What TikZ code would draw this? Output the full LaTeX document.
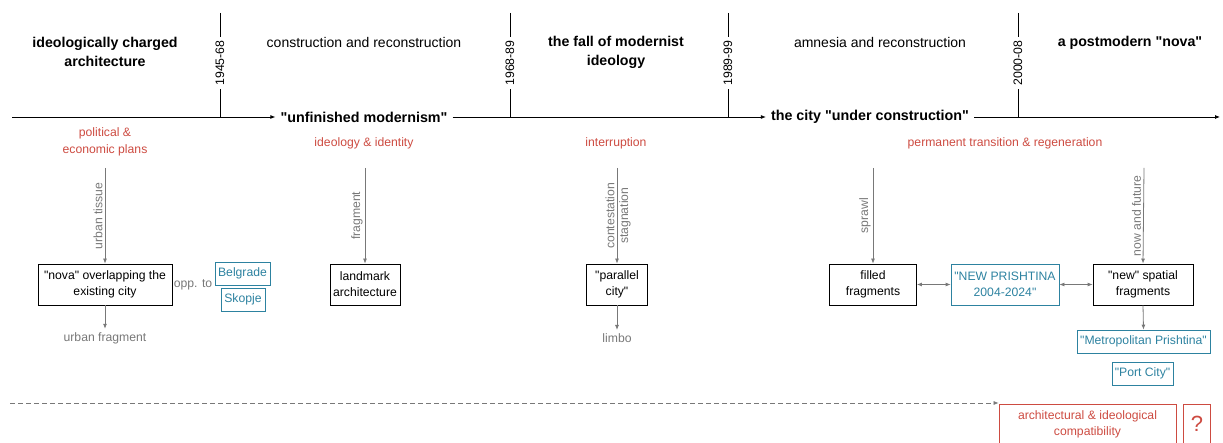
\documentclass[tikz,border=0pt]{standalone}
\usepackage{fontspec}
\newfontfamily\arialf{Liberation Sans}
\usetikzlibrary{arrows.meta}

\definecolor{plred}{RGB}{205,75,65}
\definecolor{plteal}{RGB}{45,130,160}
\definecolor{plgray}{RGB}{120,120,120}

\tikzset{
  era/.style={font=\arialf\bfseries\fontsize{14.2}{19}\selectfont, align=center},
  phase/.style={font=\arialf\fontsize{14}{17}\selectfont},
  stage/.style={font=\arialf\bfseries\fontsize{14.3}{17}\selectfont, inner sep=5pt},
  theme/.style={text=plred, font=\arialf\fontsize{12.2}{17}\selectfont, align=center},
  period/.style={rotate=90, fill=white, font=\arialf\fontsize{12.3}{14}\selectfont, inner sep=3pt},
  flowlbl/.style={text=plgray, font=\arialf\fontsize{12.2}{14}\selectfont},
  sidelbl/.style={text=plgray, rotate=90, font=\arialf\fontsize{12.2}{14}\selectfont, inner sep=2pt},
  cell/.style={draw, line width=0.8pt, align=center, inner sep=2pt,
    font=\arialf\fontsize{12.2}{16}\selectfont, minimum height=41pt},
  refbox/.style={draw=plteal, text=plteal, line width=0.8pt, align=center,
    inner sep=2pt, font=\arialf\fontsize{12.2}{16}\selectfont},
  openbox/.style={draw=plred, text=plred, line width=0.8pt, align=center,
    inner sep=2pt, font=\arialf\fontsize{12.2}{16}\selectfont},
  tline/.style={line width=0.8pt, -{Latex[length=5pt,width=4pt]}},
  feed/.style={plgray, line width=0.8pt, -{Latex[length=5pt,width=4pt]}},
  link/.style={plgray, line width=0.8pt, {Latex[length=5pt,width=4pt]}-{Latex[length=5pt,width=4pt]}},
}

\begin{document}
\begin{tikzpicture}[x=1pt, y=-1pt]
  \useasboundingbox (0,0) rectangle (1223,443);

  % timeline
  \coordinate (tstart) at (12,117);
  \coordinate (tend) at (1220,117);
  \node[stage] (unfinished) at (364,117) {"unfinished modernism"};
  \node[stage] (underc) at (870,117) {the city "under construction"};
  \draw[tline] (tstart) -- (unfinished.west);
  \draw[tline] (unfinished.east) -- (underc.west);
  \draw[tline] (underc.east) -- (tend);

  % period ticks
  \foreach \x/\yrs in {220/1945-68, 510/1968-89, 728/1989-99, 1018/2000-08} {
    \draw[line width=0.8pt] (\x,13) -- (\x,117);
    \node[period] (p\x) at (\x,63) {\yrs};
  }

  % eras and phases
  \node[era] (e1) at (105,52) {ideologically charged\\architecture};
  \node[phase] (ph1) at (364,43) {construction and reconstruction};
  \node[era] (e2) at (616,52) {the fall of modernist\\ideology};
  \node[phase] (ph2) at (880,43) {amnesia and reconstruction};
  \node[era] (e3) at (1130,43) {a postmodern "nova"};

  % themes
  \node[theme] (th1) at (105,141.5) {political \&\\economic plans};
  \node[theme] (th2) at (364,143) {ideology \& identity};
  \node[theme] (th3) at (616,143) {interruption};
  \node[theme] (th4) at (1005,143) {permanent transition \& regeneration};

  % outcome cells
  \node[cell, minimum width=134pt] (nova) at (105,284.5) {"nova" overlapping the\\existing city};
  \node[cell, minimum width=70pt] (landmark) at (365,284.5) {landmark\\architecture};
  \node[cell, minimum width=61pt] (parallel) at (617,284.5) {"parallel\\city"};
  \node[cell, minimum width=87pt] (filled) at (873,284.5) {filled\\fragments};
  \node[refbox, minimum width=108pt, minimum height=41pt] (newpr) at (1005,284.5) {"NEW PRISHTINA\\2004-2024"};
  \node[cell, minimum width=100pt] (spatial) at (1143,284.5) {"new" spatial\\fragments};

  % references
  \node[refbox, minimum width=55pt, minimum height=23pt] (belgrade) at (242.5,273.5) {Belgrade};
  \node[refbox, minimum width=44pt, minimum height=23pt] (skopje) at (243,299.5) {Skopje};
  \node[flowlbl] (opp) at (193,285) {opp. to};
  \node[refbox, minimum width=133pt, minimum height=23pt] (metro) at (1143.5,341.5) {"Metropolitan Prishtina"};
  \node[refbox, minimum width=61pt, minimum height=23pt] (port) at (1142.5,373.5) {"Port City"};

  % feeds into cells
  \coordinate (f1) at (105,168);
  \coordinate (f2) at (365,168);
  \coordinate (f3) at (617,168);
  \coordinate (f4) at (873,168);
  \coordinate (f5) at (1144,168);
  \draw[feed] (f1) -- (nova.north) node[sidelbl, midway, anchor=south] {urban tissue};
  \draw[feed] (f2) -- (landmark.north) node[sidelbl, midway, anchor=south] {fragment};
  \draw[feed] (f3) -- (parallel.north) node[sidelbl, midway, anchor=south] {contestation}
    node[sidelbl, midway, anchor=north] {stagnation};
  \draw[feed] (f4) -- (filled.north) node[sidelbl, midway, anchor=south] {sprawl};
  \draw[feed] (f5) -- (spatial.north) node[sidelbl, midway, anchor=south] {now and future};

  % results
  \node[flowlbl] (urbfrag) at (105,338) {urban fragment};
  \node[flowlbl] (limbo) at (617,338) {limbo};
  \draw[feed] (nova.south) -- (urbfrag.north);
  \draw[feed] (parallel.south) -- (limbo.north);
  \draw[feed] (spatial.south) -- (metro.north);
  \draw[link] (filled.east) -- (newpr.west);
  \draw[link] (newpr.east) -- (spatial.west);

  % open question
  \node[openbox, minimum width=177pt, minimum height=40pt] (compat) at (1087.5,424) {architectural \& ideological\\compatibility};
  \node[openbox, minimum width=27pt, minimum height=40pt, font=\arialf\fontsize{22}{24}\selectfont] (quest) at (1197,424) {?};
  \coordinate (dstart) at (10,403);
  \draw[feed, dashed, dash pattern=on 5pt off 3pt, line width=0.7pt] (dstart) -- (dstart -| compat.west);
\end{tikzpicture}
\end{document}
